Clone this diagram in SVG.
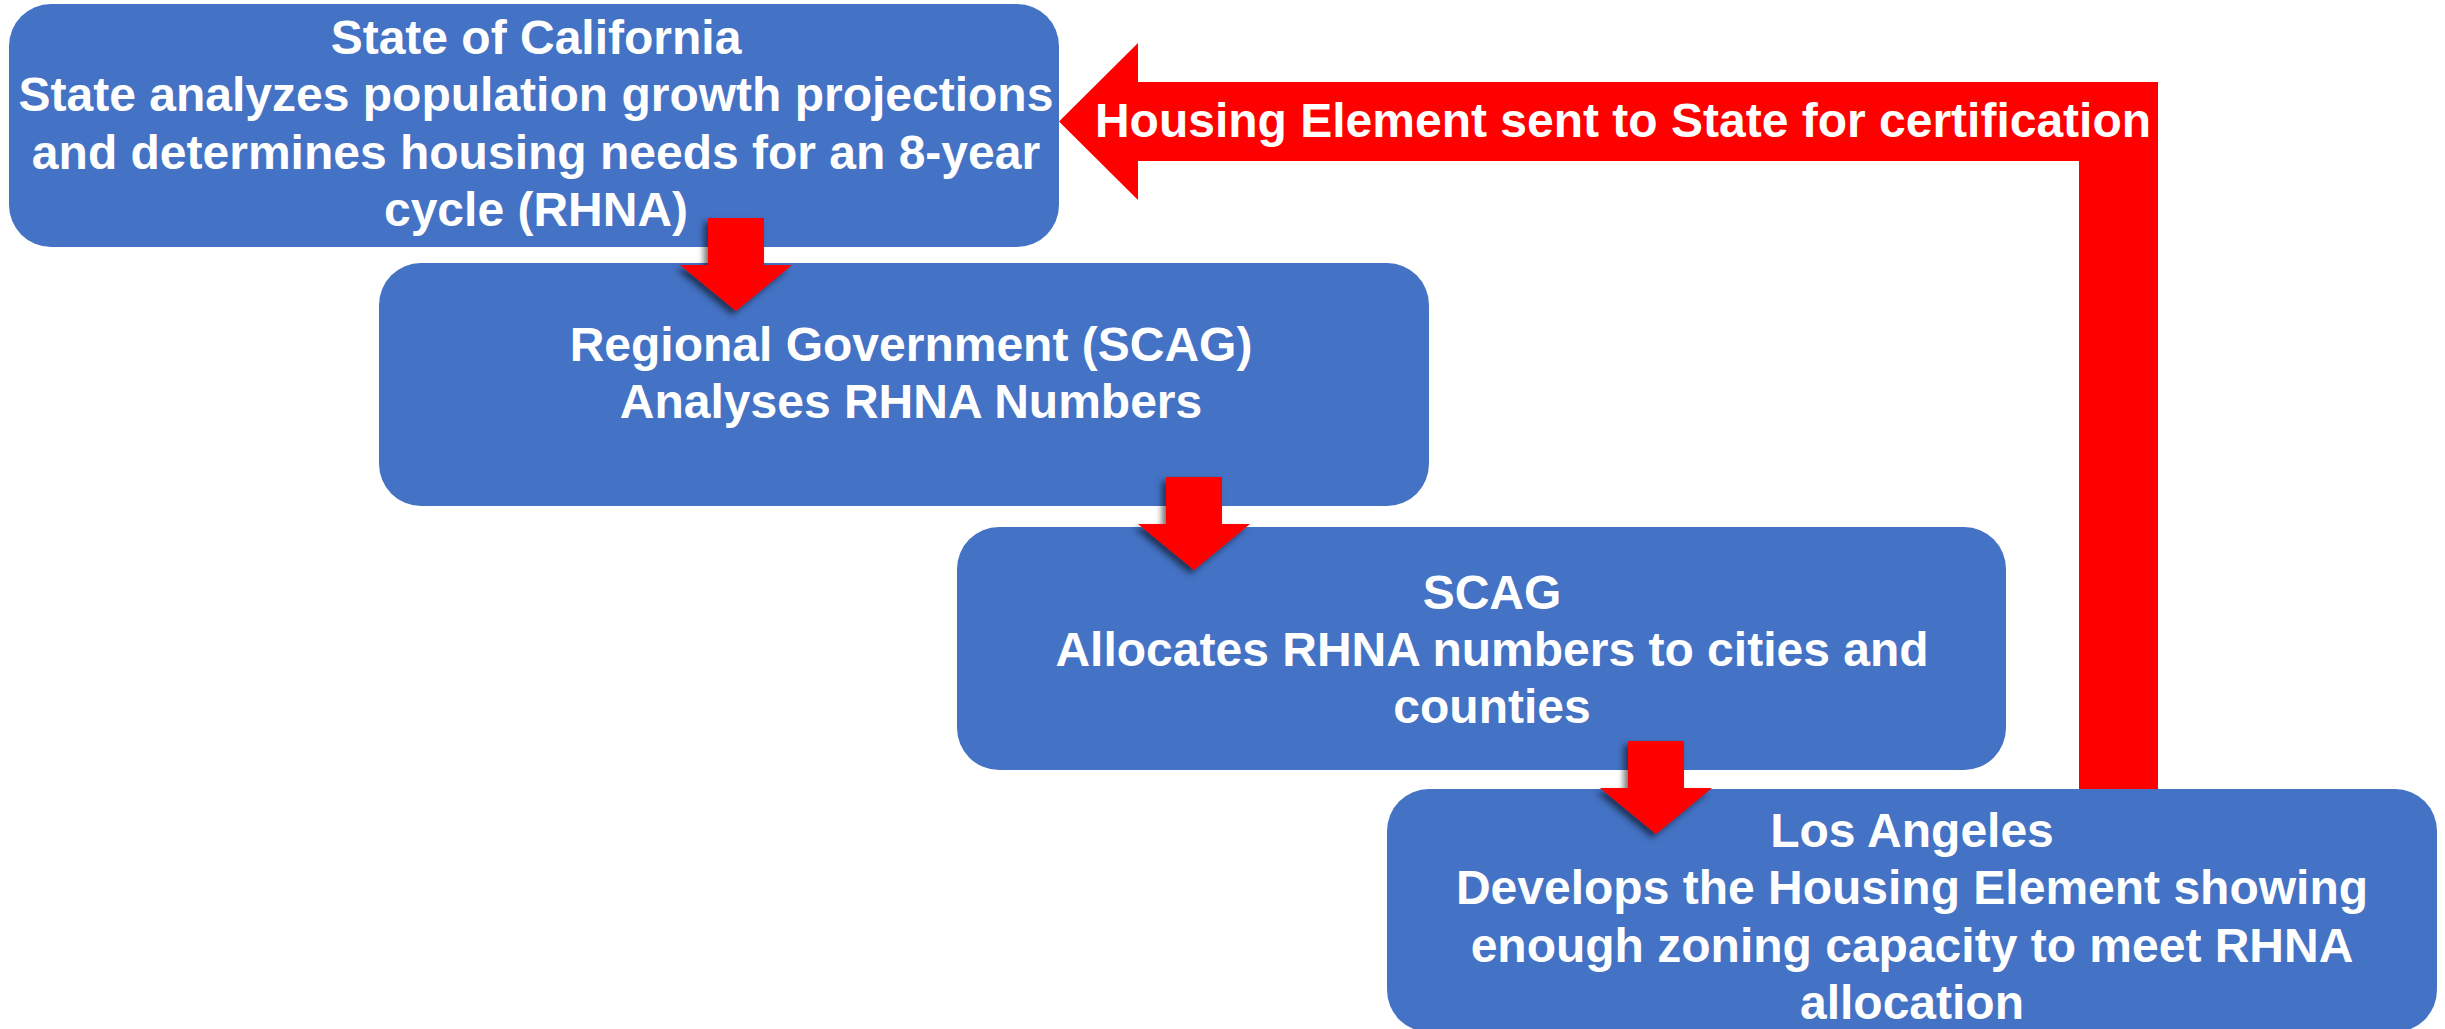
<svg xmlns="http://www.w3.org/2000/svg" width="2445" height="1029" viewBox="0 0 2445 1029">
  <style>
    .box { fill: #4472C4; }
    .lbl { font-family: "Liberation Sans", Arial, sans-serif; font-weight: bold; font-size: 48px; fill: #FFFFFF; text-anchor: middle; }
    .red { fill: #FF0000; }
  </style>
  <defs>
    <filter id="soft-shadow" x="-30%" y="-30%" width="160%" height="160%">
      <feDropShadow dx="-4" dy="4" stdDeviation="3" flood-color="#000000" flood-opacity="0.55"/>
    </filter>
    <!-- block arrow pointing down, origin at top-centre of the shaft -->
    <path id="down-arrow" d="M -28 0 H 28 V 47 H 56 L 0 93 L -56 47 H -28 Z"/>
  </defs>

  <rect width="2445" height="1029" fill="#FFFFFF"/>

  <!-- feedback arrow: Los Angeles back up to the State -->
  <g id="connectors-feedback">
    <path class="red" d="M 1059 121.5 L 1138 43 V 82 H 2158 V 789 H 2079 V 161 H 1138 V 200 Z"/>
    <text class="lbl" x="1623" y="137">Housing Element sent to State for certification</text>
  </g>

  <g id="node-state">
    <rect class="box" x="9" y="4" width="1050" height="243" rx="42" ry="42"/>
    <text class="lbl" x="536" y="53.5">State of California</text>
    <text class="lbl" x="536" y="111">State analyzes population growth projections</text>
    <text class="lbl" x="536" y="168.5">and determines housing needs for an 8-year</text>
    <text class="lbl" x="536" y="226">cycle (RHNA)</text>
  </g>

  <g id="node-regional">
    <rect class="box" x="379" y="263" width="1050" height="243" rx="42" ry="42"/>
    <text class="lbl" x="911" y="361">Regional Government (SCAG)</text>
    <text class="lbl" x="911" y="418">Analyses RHNA Numbers</text>
  </g>

  <g id="node-scag">
    <rect class="box" x="957" y="527" width="1049" height="243" rx="42" ry="42"/>
    <text class="lbl" x="1492" y="609">SCAG</text>
    <text class="lbl" x="1492" y="666">Allocates RHNA numbers to cities and</text>
    <text class="lbl" x="1492" y="723">counties</text>
  </g>

  <g id="node-los-angeles">
    <rect class="box" x="1387" y="789" width="1050" height="243" rx="42" ry="42"/>
    <text class="lbl" x="1912" y="847">Los Angeles</text>
    <text class="lbl" x="1912" y="904">Develops the Housing Element showing</text>
    <text class="lbl" x="1912" y="962">enough zoning capacity to meet RHNA</text>
    <text class="lbl" x="1912" y="1019">allocation</text>
  </g>

  <!-- downward step arrows between the stages -->
  <g id="connectors" class="red" filter="url(#soft-shadow)">
    <use href="#down-arrow" x="736" y="218"/>
    <use href="#down-arrow" x="1194" y="477"/>
    <use href="#down-arrow" x="1656" y="741"/>
  </g>
</svg>
